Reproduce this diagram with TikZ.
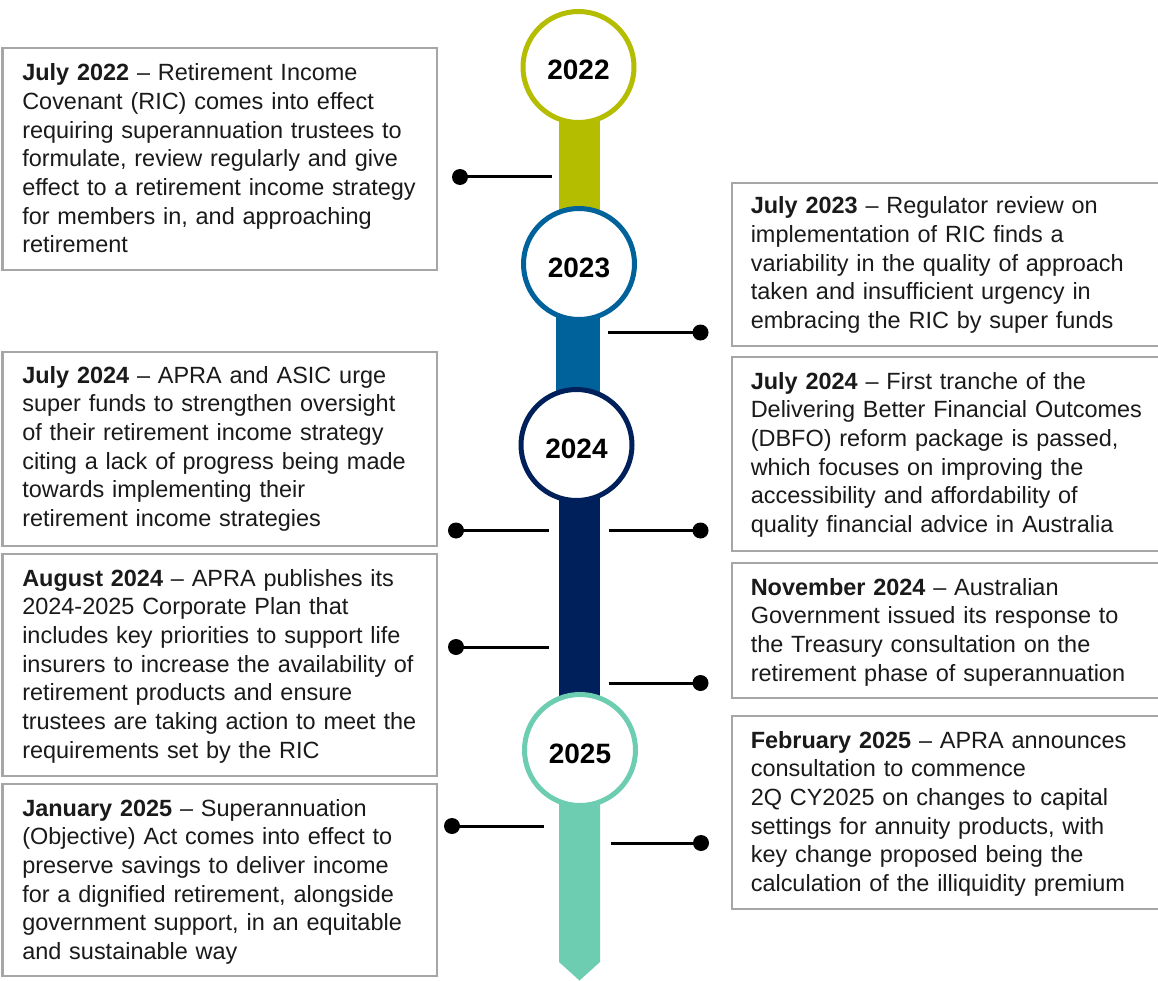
\documentclass[tikz,border=0pt]{standalone}
\usepackage{fontspec}
\setmainfont{Liberation Sans}
\definecolor{olivec}{HTML}{B5BD00}
\definecolor{bluec}{HTML}{00629B}
\definecolor{navyc}{HTML}{00205B}
\definecolor{tealc}{HTML}{6DCDB1}
\definecolor{boxgray}{HTML}{A6A6A6}
\definecolor{txt}{HTML}{1A1A1A}
\tikzset{
  yearring/.style={circle, fill=white, line width=3.75pt, inner sep=0pt,
    minimum size=83.25pt, font=\fontsize{21}{24}\selectfont\bfseries, text=black,
    text height=19.5pt, text depth=0pt},
  evbox/.style={draw=boxgray, line width=1.5pt, rectangle, anchor=north west, inner sep=0pt},
  evtext/.style={anchor=base west, inner sep=0pt, text width=330pt, align=left,
    font=\fontsize{17.6}{21.5}\selectfont, text=txt},
  conn/.style={line width=2.25pt, black},
  dotn/.style={circle, fill=black, inner sep=0pt, minimum size=12pt}
}
\begin{document}
\begin{tikzpicture}[x=0.75pt,y=-0.75pt]
\useasboundingbox (0,0) rectangle (1158,981);
\fill[white] (0,0) rectangle (1158,981);

% bars
\fill[olivec] (559,67) rectangle (600,264);
\fill[bluec] (556,264) rectangle (600,445);
\fill[navyc] (559,445) rectangle (600,750);
\fill[tealc] (559,750) -- (600,750) -- (600,962) -- (579.5,980.5) -- (559,962) -- cycle;

% year circles
\node[yearring, draw=olivec] (c22) at (578.5,67) {2022};
\node[yearring, draw=bluec] (c23) at (579,264) {2023};
\node[yearring, draw=navyc] (c24) at (576.5,445) {2024};
\node[yearring, draw=tealc] (c25) at (580,750) {2025};

% boxes
\node[evbox, minimum width=325.5pt, minimum height=166.5pt] (bl1) at (1.5,47) {};
\node[evbox, minimum width=325.5pt, minimum height=145.5pt] (bl2) at (1.5,350.5) {};
\node[evbox, minimum width=325.5pt, minimum height=166.5pt] (bl3) at (1.5,553) {};
\node[evbox, minimum width=325.5pt, minimum height=144pt] (bl4) at (1.5,783) {};
\node[evbox, minimum width=330pt, minimum height=122.25pt] (br1) at (731,182) {};
\node[evbox, minimum width=330pt, minimum height=145.5pt] (br2) at (731,356) {};
\node[evbox, minimum width=330pt, minimum height=101.25pt] (br3) at (731,562) {};
\node[evbox, minimum width=330pt, minimum height=144.75pt] (br4) at (731,715) {};

% texts
\node[evtext] (tl1) at (22,81) {\textbf{July 2022} – Retirement Income\\
Covenant (RIC) comes into effect\\
requiring superannuation trustees to\\
formulate, review regularly and give\\
effect to a retirement income strategy\\
for members in, and approaching\\
retirement};
\node[evtext] (tl2) at (22,383) {\textbf{July 2024} – APRA and ASIC urge\\
super funds to strengthen oversight\\
of their retirement income strategy\\
citing a lack of progress being made\\
towards implementing their\\
retirement income strategies};
\node[evtext] (tl3) at (22,586) {\textbf{August 2024} – APRA publishes its\\
2024-2025 Corporate Plan that\\
includes key priorities to support life\\
insurers to increase the availability of\\
retirement products and ensure\\
trustees are taking action to meet the\\
requirements set by the RIC};
\node[evtext] (tl4) at (22,816) {\textbf{January 2025} – Superannuation\\
(Objective) Act comes into effect to\\
preserve savings to deliver income\\
for a dignified retirement, alongside\\
government support, in an equitable\\
and sustainable way};
\node[evtext] (tr1) at (750.5,214) {\textbf{July 2023} – Regulator review on\\
implementation of RIC finds a\\
variability in the quality of approach\\
taken and insufficient urgency in\\
embracing the RIC by super funds};
\node[evtext] (tr2) at (750.5,389) {\textbf{July 2024} – First tranche of the\\
Delivering Better Financial Outcomes\\
(DBFO) reform package is passed,\\
which focuses on improving the\\
accessibility and affordability of\\
quality financial advice in Australia};
\node[evtext] (tr3) at (750.5,595) {\textbf{November 2024} – Australian\\
Government issued its response to\\
the Treasury consultation on the\\
retirement phase of superannuation};
\node[evtext] (tr4) at (750.5,748) {\textbf{February 2025} – APRA announces\\
consultation to commence\\
2Q CY2025 on changes to capital\\
settings for annuity products, with\\
key change proposed being the\\
calculation of the illiquidity premium};

% connectors: left
\node[dotn] (dl1) at (460,177) {};
\coordinate (el1) at (552,177);
\node[dotn] (dl2) at (456,530.5) {};
\coordinate (el2) at (548.5,530.5);
\node[dotn] (dl3) at (456,647) {};
\coordinate (el3) at (548.5,647);
\node[dotn] (dl4) at (452,826) {};
\coordinate (el4) at (543.5,826);
\draw[conn] (dl1.center) -- (el1);
\draw[conn] (dl2.center) -- (el2);
\draw[conn] (dl3.center) -- (el3);
\draw[conn] (dl4.center) -- (el4);

% connectors: right
\node[dotn] (dr1) at (700.5,332.5) {};
\coordinate (er1) at (608,332.5);
\node[dotn] (dr2) at (700.5,530.5) {};
\coordinate (er2) at (608.5,530.5);
\node[dotn] (dr3) at (700.5,683) {};
\coordinate (er3) at (608.5,683);
\node[dotn] (dr4) at (701,843) {};
\coordinate (er4) at (610.5,843);
\draw[conn] (er1) -- (dr1.center);
\draw[conn] (er2) -- (dr2.center);
\draw[conn] (er3) -- (dr3.center);
\draw[conn] (er4) -- (dr4.center);
\end{tikzpicture}
\end{document}
